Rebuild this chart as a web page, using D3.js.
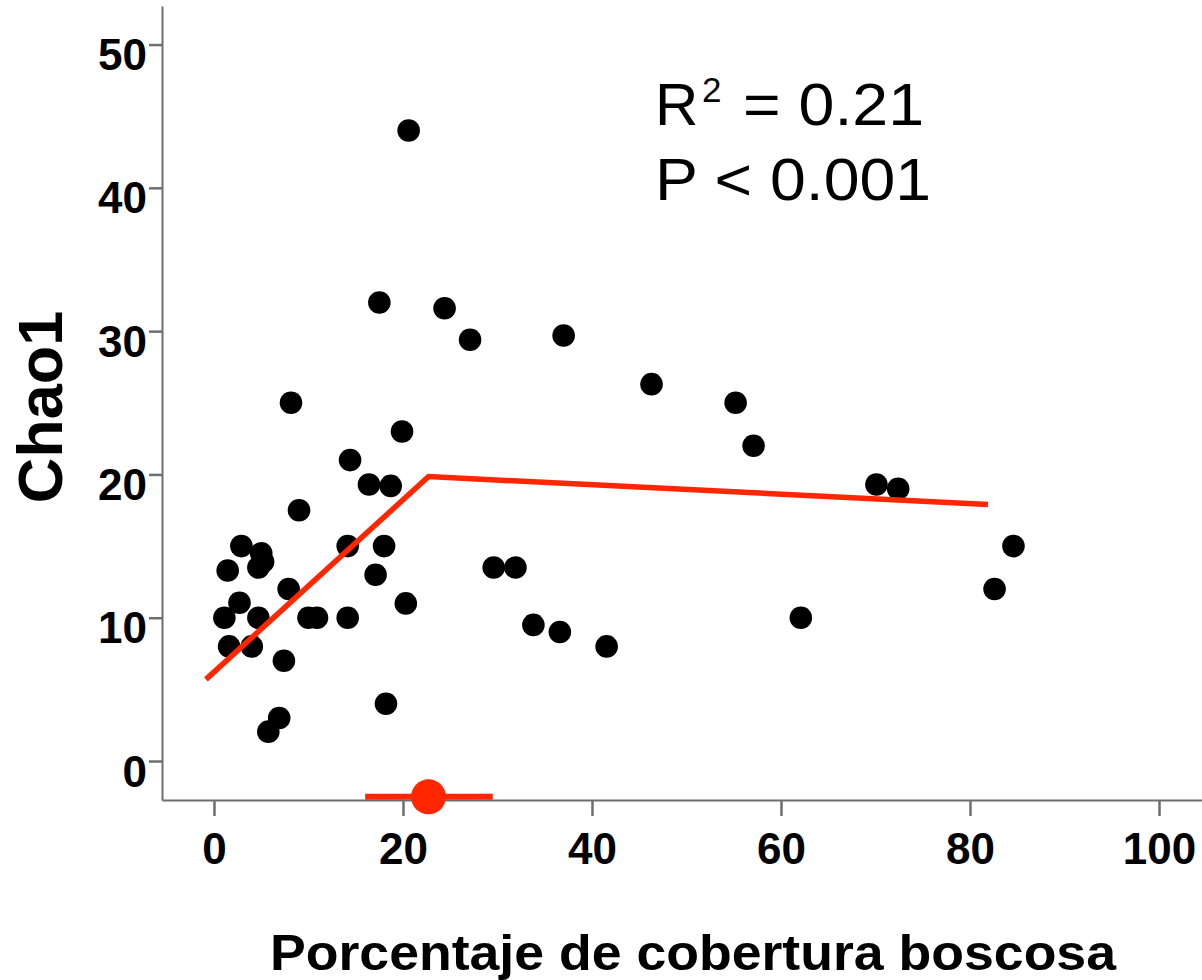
<!DOCTYPE html>
<html>
<head>
<meta charset="utf-8">
<script src="https://cdn.jsdelivr.net/npm/d3@7"></script>
<style>
  html, body { margin: 0; padding: 0; background: #ffffff; }
  svg { display: block; font-family: "Liberation Sans", Arial, Helvetica, sans-serif; }
</style>
</head>
<body>
<svg id="chart" width="1202" height="980"></svg>
<script>
// Forest cover (%) per site
const coverPct = [
  1.1, 1.45, 1.6, 2.7, 2.9, 4.0, 4.7, 5.0, 5.2, 4.7, 5.75, 6.9, 7.4, 7.9, 8.15,
  9.0, 10.0, 10.9, 14.15, 14.15, 14.4, 16.4, 17.1, 17.5, 18.0, 18.2, 18.7, 19.9,
  20.3, 20.6, 24.4, 27.1, 29.6, 31.9, 33.8, 36.6, 37.0, 41.55, 46.3, 55.2, 57.1,
  62.1, 70.1, 72.4, 82.6, 84.6
];
// Chao1 richness estimate per site
const chao1 = [
  10.0, 13.3, 8.0, 11.05, 15.0, 8.0, 10.0, 14.5, 13.9, 13.5, 2.05, 3.0, 7.0, 12.0, 25.0,
  17.5, 10.0, 10.0, 15.0, 10.0, 21.0, 19.3, 13.0, 32.0, 15.0, 4.0, 19.2, 23.0,
  11.0, 44.0, 31.6, 29.4, 13.5, 13.5, 9.5, 9.0, 29.7, 8.0, 26.3, 25.0, 22.0,
  10.0, 19.3, 19.0, 12.0, 15.0
];

// Piecewise (segmented) regression fit
const fitX = [-0.85, 22.7, 81.9];
const fitY = [5.7, 19.85, 17.9];

// Breakpoint estimate with its confidence interval
const breakEstimate = [22.7];
const breakInterval = [16.0, 29.5];
const breakMarkerY = [-2.5];

const xTicks = [0, 20, 40, 60, 80, 100];
const yTicks = [0, 10, 20, 30, 40, 50];

const statLines = ["R", "2", "= 0.21", "P < 0.001"];
const xTitle = "Porcentaje de cobertura boscosa";
const yTitle = "Chao1";

const svg = d3.select("#chart");
const axisColor = "#6e6e6e";
const red = "#ff2600";

const x = d3.scaleLinear().domain([-5.5, 104.55]).range([162, 1202]);
const y = d3.scaleLinear().domain([-2.72, 52.69]).range([800, 6]);

// Axes
const xAxis = svg.append("g")
  .attr("transform", `translate(0,${y.range()[0]})`)
  .call(d3.axisBottom(x).tickValues(xTicks).tickSize(16).tickSizeOuter(0).tickFormat(d3.format("d")));
xAxis.selectAll("text").attr("y", 64).attr("dy", 0);

const yAxis = svg.append("g")
  .attr("transform", `translate(${x.range()[0]},0)`)
  .call(d3.axisLeft(y).tickValues(yTicks).tickSize(13).tickPadding(2).tickSizeOuter(0).tickFormat(d3.format("d")));
yAxis.selectAll("text").attr("dy", "0.57em");

[xAxis, yAxis].forEach(g => {
  g.select(".domain").attr("stroke", axisColor).attr("stroke-width", 2);
  g.selectAll(".tick line").attr("stroke", axisColor).attr("stroke-width", 2.5);
  g.selectAll("text")
    .attr("fill", "#000")
    .attr("font-size", 44)
    .attr("font-weight", "bold")
    .attr("font-family", "'Liberation Sans', Arial, sans-serif");
});

// Site points
svg.append("g")
  .selectAll("circle")
  .data(coverPct.map((v, i) => [v, chao1[i]]))
  .join("circle")
  .attr("cx", d => x(d[0]))
  .attr("cy", d => y(d[1]))
  .attr("r", 11.3)
  .attr("fill", "#000");

// Segmented regression line
svg.append("path")
  .datum(fitX.map((v, i) => [v, fitY[i]]))
  .attr("d", d3.line().x(d => x(d[0])).y(d => y(d[1])))
  .attr("fill", "none")
  .attr("stroke", red)
  .attr("stroke-width", 5.5);

// Breakpoint marker with interval
svg.append("line")
  .attr("x1", x(breakInterval[0]))
  .attr("x2", x(breakInterval[1]))
  .attr("y1", y(breakMarkerY[0]))
  .attr("y2", y(breakMarkerY[0]))
  .attr("stroke", red)
  .attr("stroke-width", 6);
svg.append("circle")
  .attr("cx", x(breakEstimate[0]))
  .attr("cy", y(breakMarkerY[0]))
  .attr("r", 17.5)
  .attr("fill", red);

// Fit statistics
const statGroup = svg.append("g").attr("fill", "#000");
statGroup.append("text")
  .attr("x", 655).attr("y", 125)
  .style("font-size", "60px")
  .text(statLines[0]);
statGroup.append("text")
  .attr("x", 702).attr("y", 102)
  .style("font-size", "35px")
  .text(statLines[1]);
statGroup.append("text")
  .attr("x", 743).attr("y", 125)
  .style("font-size", "60px")
  .attr("textLength", 181)
  .attr("lengthAdjust", "spacingAndGlyphs")
  .text(statLines[2]);
statGroup.append("text")
  .attr("x", 655).attr("y", 200)
  .style("font-size", "60px")
  .attr("textLength", 276)
  .attr("lengthAdjust", "spacingAndGlyphs")
  .text(statLines[3]);

// Axis titles
svg.append("text")
  .attr("x", 693)
  .attr("y", 970)
  .attr("text-anchor", "middle")
  .attr("font-size", 50)
  .attr("font-weight", "bold")
  .attr("textLength", 846)
  .attr("lengthAdjust", "spacingAndGlyphs")
  .attr("fill", "#000")
  .text(xTitle);

svg.append("text")
  .attr("transform", "translate(62,407) rotate(-90)")
  .attr("text-anchor", "middle")
  .attr("font-size", 63)
  .attr("font-weight", "bold")
  .attr("fill", "#000")
  .text(yTitle);
</script>
</body>
</html>
